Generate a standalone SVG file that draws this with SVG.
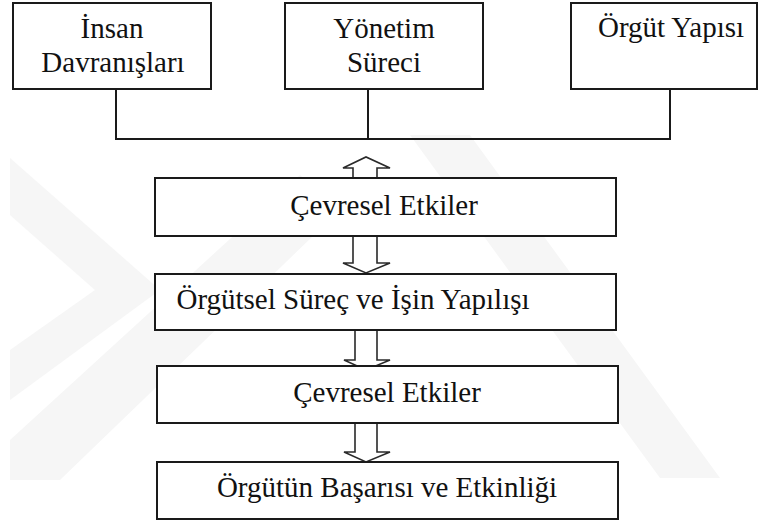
<svg xmlns="http://www.w3.org/2000/svg" width="759" height="525" viewBox="0 0 759 525">
<style>
.box{fill:#fff;stroke:#1a1a1a;stroke-width:2}
.ln{fill:none;stroke:#1a1a1a;stroke-width:2}
.arr{fill:#fff;stroke:#2a2a2a;stroke-width:1.6;stroke-linejoin:miter}
text{font-family:'Liberation Serif','Times New Roman',Times,serif;font-size:29px;fill:#111;text-anchor:middle}
.wm{fill:#f6f6f6}
</style>
<rect width="759" height="525" fill="#fff"/>
<g id="watermark">
<polygon class="wm" points="10,158 10,215 95,290 10,350 10,400 160,290"/>
<polygon class="wm" points="10,440 10,480 60,480 340,210 300,175"/>
<polygon class="wm" points="410,135 470,135 720,478 660,478"/>
</g>
<g id="connectors">
<path class="ln" d="M116,89 V139 H670 V89 M368,89 V139"/>
<polygon class="arr" points="353,178 353,168 343,168 366,157 390,168 377,168 377,178"/>
<polygon class="arr" points="353,236 353,263 343,263 366,273 390,263 377,263 377,236"/>
<polygon class="arr" points="355,330 355,360 344,360 366,370 390,360 377,360 377,330"/>
<polygon class="arr" points="355,423 355,452 344,452 366,462 390,452 377,452 377,423"/>
</g>
<g id="n1"><rect class="box" x="13" y="3" width="198" height="86"/><text x="112" y="38">İnsan</text><text x="113" y="72">Davranışları</text></g>
<g id="n2"><rect class="box" x="285" y="3" width="198" height="86"/><text x="384" y="38">Yönetim</text><text x="384" y="72">Süreci</text></g>
<g id="n3"><rect class="box" x="571" y="3" width="186" height="86"/><text x="671" y="37">Örgüt Yapısı</text></g>
<g id="n4"><rect class="box" x="155" y="178" width="461" height="58"/><text x="384" y="215">Çevresel Etkiler</text></g>
<g id="n5"><rect class="box" x="155" y="274" width="461" height="56"/><text x="353" y="309">Örgütsel Süreç ve İşin Yapılışı</text></g>
<g id="n6"><rect class="box" x="157" y="366" width="461" height="57"/><text x="387" y="402">Çevresel Etkiler</text></g>
<g id="n7"><rect class="box" x="157" y="462" width="461" height="57"/><text x="387" y="497">Örgütün Başarısı ve Etkinliği</text></g>
</svg>
